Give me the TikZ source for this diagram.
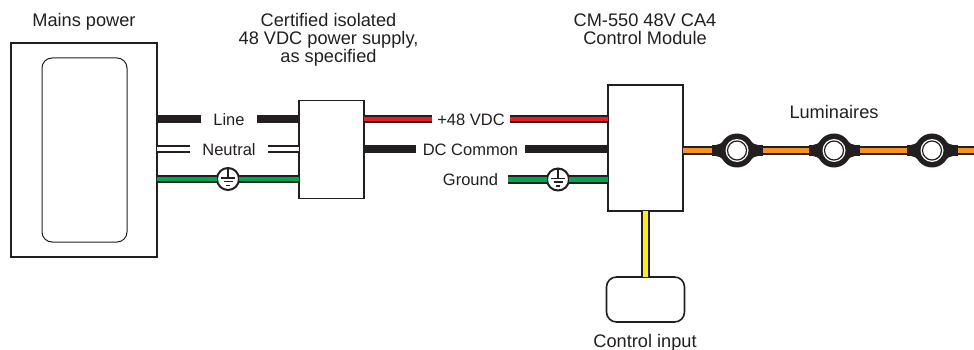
\documentclass[tikz,border=0pt]{standalone}
\usepackage{fontspec}
\setmainfont{Liberation Sans}
\usepackage{tikz}
\usetikzlibrary{calc,positioning}
\definecolor{ink}{HTML}{231F20}
\definecolor{redwire}{HTML}{ED1C24}
\definecolor{greenwire}{HTML}{00A651}
\definecolor{orangewire}{HTML}{F7941D}
\definecolor{yellowwire}{HTML}{FFF200}
\tikzstyle{box}    =[rectangle, draw=ink, line width=1.6pt, fill=white,
                     inner sep=0pt, outer sep=0pt]
\tikzstyle{title}  =[text=ink, font=\fontsize{18.2}{17.8}\selectfont, align=center,
                     inner sep=0pt]
\tikzstyle{tag}    =[text=ink, font=\fontsize{16.5}{17.5}\selectfont, inner sep=0pt,
                     text height=12pt, text depth=0pt]
\tikzstyle{thick wire}=[draw=ink, line width=8pt]
\tikzstyle{wire}   =[draw=ink, line width=2pt, double distance=4.5pt]
\tikzstyle{earth}  =[circle, draw=ink, line width=2pt, fill=white,
                     minimum size=22pt, inner sep=0pt, outer sep=0pt]
\newcommand{\earthsym}[3]{
    \node[earth] (#1) at (#2,#3) {};
    \begin{scope}[shift={(#1)}, draw=ink, line width=1.6pt]
        \draw (0,-11) -- (0,-1);
        \draw (-7,-1) -- (7,-1);
        \draw (-4.5,2.5) -- (4.5,2.5);
        \draw (-2,6.5) -- (2,6.5);
    \end{scope}
}
\begin{document}
\begin{tikzpicture}[x=1pt, y=-1pt]
    \useasboundingbox (0,0) rectangle (974,350);

    % boxes
    \node[box, minimum width=146pt, minimum height=214pt] (mains) at (84,150) {};
    \node[box, draw=ink, line width=1pt, rounded corners=10pt, minimum width=85pt,
          minimum height=184pt] (plate) at (84.5,150) {};
    \node[box, minimum width=65pt, minimum height=98pt] (supply) at (331.5,149.5) {};
    \node[box, minimum width=75pt, minimum height=126pt] (module) at (645.5,148) {};
    \node[box, rounded corners=10pt, minimum width=78pt, minimum height=45pt] (input) at (645.5,299.5) {};

    % titles
    \node[title] (mainstitle) at (84,21.5) {Mains power};
    \node[title] (supplytitle) at (328.5,39.5) {Certified isolated\\48 VDC power supply,\\as specified};
    \node[title] (moduletitle) at (645,29) {CM-550 48V CA4\\Control Module};
    \node[title] (lumtitle) at (834,112) {Luminaires};
    \node[title] (inputtitle) at (645,343) {Control input};

    % mains side
    \node[tag, minimum width=56pt] (line) at (229,119) {Line};
    \node[tag, minimum width=78pt] (neutral) at (229,149) {Neutral};
    \earthsym{earthin}{228}{179}
    \draw[thick wire] (mains.east |- line) -- (line.west);
    \draw[thick wire] (line.east) -- (supply.west |- line);
    \draw[draw=ink, line width=2pt, double=white, double distance=3.5pt] (mains.east |- neutral) -- (neutral.west);
    \draw[draw=ink, line width=2pt, double=white, double distance=3.5pt] (neutral.east) -- (supply.west |- neutral);
    \draw[wire, double=greenwire] (mains.east |- earthin) -- (earthin);
    \draw[wire, double=greenwire] (earthin) -- (supply.west |- earthin);

    % dc side
    \node[tag, minimum width=78pt] (plus) at (471,119) {+48 VDC};
    \node[tag, minimum width=109pt] (common) at (470.5,149) {DC Common};
    \node[tag, minimum width=75pt] (ground) at (470.5,179.5) {Ground};
    \earthsym{earthout}{558}{179.5}
    \draw[wire, double=redwire] (supply.east |- plus) -- (plus.west);
    \draw[wire, double=redwire] (plus.east) -- (module.west |- plus);
    \draw[thick wire] (supply.east |- common) -- (common.west);
    \draw[thick wire] (common.east) -- (module.west |- common);
    \draw[wire, double=greenwire] (ground.east) -- (earthout);
    \draw[wire, double=greenwire] (earthout) -- (module.west |- earthout);

    % control input
    \draw[wire, double=yellowwire] (module.south) -- (input.north);

    % luminaires
    \foreach \i/\x in {1/737,2/834,3/932}{
        \node[fill=ink, minimum width=51pt, minimum height=11pt, inner sep=0pt, outer sep=0pt] (tab\i) at (\x,150.5) {};
        \node[circle, fill=ink, minimum size=34pt, inner sep=0pt, outer sep=0pt] (lum\i) at (\x,150.5) {};
        \begin{scope}[shift={(lum\i)}]
            \fill[ink] (-21,-5.5) .. controls (-18,-5.5) and (-16,-7) .. (-12,-11) -- (12,-11)
                .. controls (16,-7) and (18,-5.5) .. (21,-5.5) -- (21,5.5)
                .. controls (18,5.5) and (16,7) .. (12,11) -- (-12,11)
                .. controls (-16,7) and (-18,5.5) .. (-21,5.5) -- cycle;
        \end{scope}
        \node[circle, fill=white, minimum size=23pt, inner sep=0pt] (ring\i) at (\x,150.5) {};
        \node[circle, draw=ink, line width=1.2pt, fill=white, minimum size=19pt, inner sep=0pt] (lens\i) at (\x,150.5) {};
    }
    \coordinate (wireend) at (974,150.5);
    \draw[wire, double=orangewire] (module.east |- tab1) -- (tab1.west);
    \draw[wire, double=orangewire] (tab1.east) -- (tab2.west);
    \draw[wire, double=orangewire] (tab2.east) -- (tab3.west);
    \draw[wire, double=orangewire] (tab3.east) -- (wireend);
\end{tikzpicture}
\end{document}
